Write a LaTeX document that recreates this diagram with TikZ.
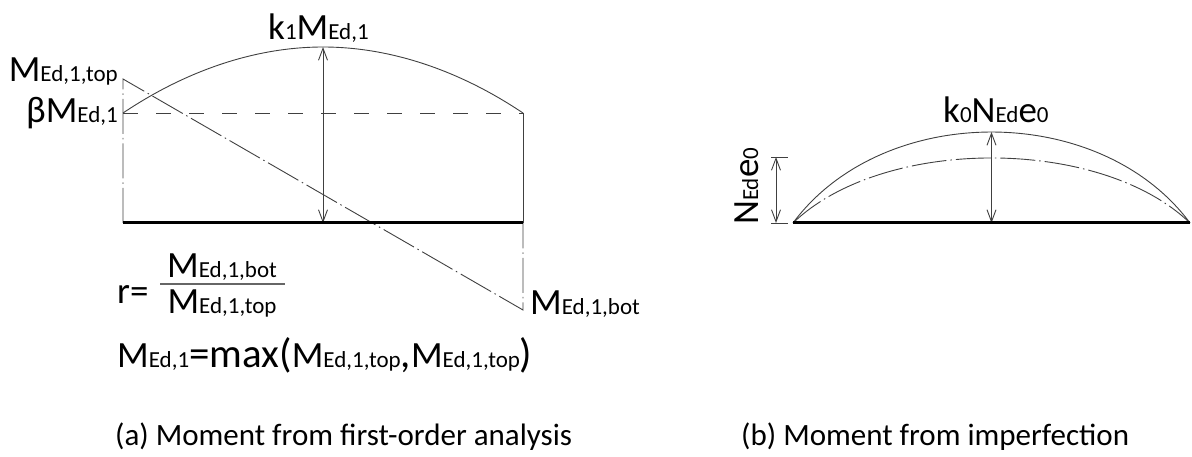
\documentclass[tikz,border=0pt]{standalone}
\usepackage{fontspec}
\setmainfont{Carlito}
\usetikzlibrary{arrows.meta}
\newcommand\bigtx[1]{{\fontsize{37}{40}\selectfont #1}}
\newcommand\hugetx[1]{{\fontsize{41}{44}\selectfont #1}}
\newcommand\smtx[1]{{\fontsize{23}{24}\selectfont #1}}
\begin{document}
\begin{tikzpicture}[x=1pt,y=-1pt,
  thinline/.style={line width=0.9pt, draw=black!75},
  baseline/.style={line width=3pt, draw=black},
  dashdot/.style={thinline, dash pattern=on 35pt off 4pt on 1.5pt off 4pt},
  dashline/.style={thinline, dash pattern=on 15pt off 18pt},
  dim/.style={thinline, {Straight Barb[length=12pt,width=9pt]}-{Straight Barb[length=12pt,width=9pt]}},
  lbl/.style={inner sep=0pt, anchor=base west},
  captxt/.style={inner sep=0pt, anchor=base west, font=\fontsize{31}{34}\selectfont},
]
\useasboundingbox (0,0) rectangle (1192,457);
% left diagram
\coordinate (A0) at (123,223);
\coordinate (A1) at (523,223);
\coordinate (Atop) at (123,79);
\coordinate (Ab) at (123,113);
\coordinate (Abr) at (523,113);
\coordinate (Apk) at (323,47);
\coordinate (Apkb) at (323,223);
\coordinate (Abot) at (523,310);
\draw[dashline] (Ab) -- (Abr);
\draw[thinline] (Ab) parabola bend (Apk) (Abr);
\draw[thinline] (Abr) -- (A1);
\draw[dashdot] (A0) -- (Atop) -- (Abot) -- (A1);
\draw[dim] (Apk) -- (Apkb);
\draw[baseline] (A0) -- (A1);
% right diagram
\coordinate (B0) at (793,223);
\coordinate (B1) at (1190,223);
\coordinate (Bc1) at (883,101.7);
\coordinate (Bc2) at (1100,101.7);
\coordinate (Bd1) at (883,136.3);
\coordinate (Bd2) at (1100,136.3);
\coordinate (Bpk) at (991.5,132);
\coordinate (Bmid) at (991.5,223);
\coordinate (D1a) at (771,157);
\coordinate (D1b) at (788,157);
\coordinate (D2a) at (771,223);
\coordinate (D2b) at (788,223);
\coordinate (D1) at (776,157);
\coordinate (D2) at (776,223);
\draw[thinline] (B0) .. controls (Bc1) and (Bc2) .. (B1);
\draw[dashdot] (B0) .. controls (Bd1) and (Bd2) .. (B1);
\draw[dim] (Bpk) -- (Bmid);
\draw[thinline] (D1a) -- (D1b);
\draw[thinline] (D2a) -- (D2b);
\draw[dim] (D1) -- (D2);
\draw[baseline] (B0) -- (B1);
% labels
\node[lbl] (k1) at (268,40) {\bigtx{k}\smtx{1}\bigtx{M}\smtx{Ed,1}};
\node[lbl, anchor=base east] (mtop) at (118,82) {\bigtx{M}\smtx{Ed,1,top}};
\node[lbl, anchor=base east] (beta) at (118,123) {\bigtx{βM}\smtx{Ed,1}};
\node[lbl] (mbot) at (530,314) {\bigtx{M}\smtx{Ed,1,bot}};
\node[lbl] (r) at (117,303) {\bigtx{r=}};
\node[inner sep=0pt, anchor=base] (num) at (222,277) {\bigtx{M}\smtx{Ed,1,bot}};
\node[inner sep=0pt, anchor=base] (den) at (222,313) {\bigtx{M}\smtx{Ed,1,top}};
\coordinate (fa) at (160,284);
\coordinate (fb) at (285,284);
\draw[line width=1.5pt, black!60] (fa) -- (fb);
\node[lbl] (mx) at (117,367) {\bigtx{M}\smtx{Ed,1}\hugetx{=max(}\bigtx{M}\smtx{Ed,1,top}\hugetx{,}\bigtx{M}\smtx{Ed,1,top}\hugetx{)}};
\node[lbl] (k0) at (943,123) {\bigtx{k}\smtx{0}\bigtx{N}\smtx{Ed}\bigtx{e}\smtx{0}};
\node[lbl, rotate=90] (ne) at (758,225) {\bigtx{N}\smtx{Ed}\bigtx{e}\smtx{0}};
\node[captxt] (capa) at (115,445) {(a) Moment from first-order analysis};
\node[captxt] (capb) at (741,445) {(b) Moment from imperfection};
\end{tikzpicture}
\end{document}
